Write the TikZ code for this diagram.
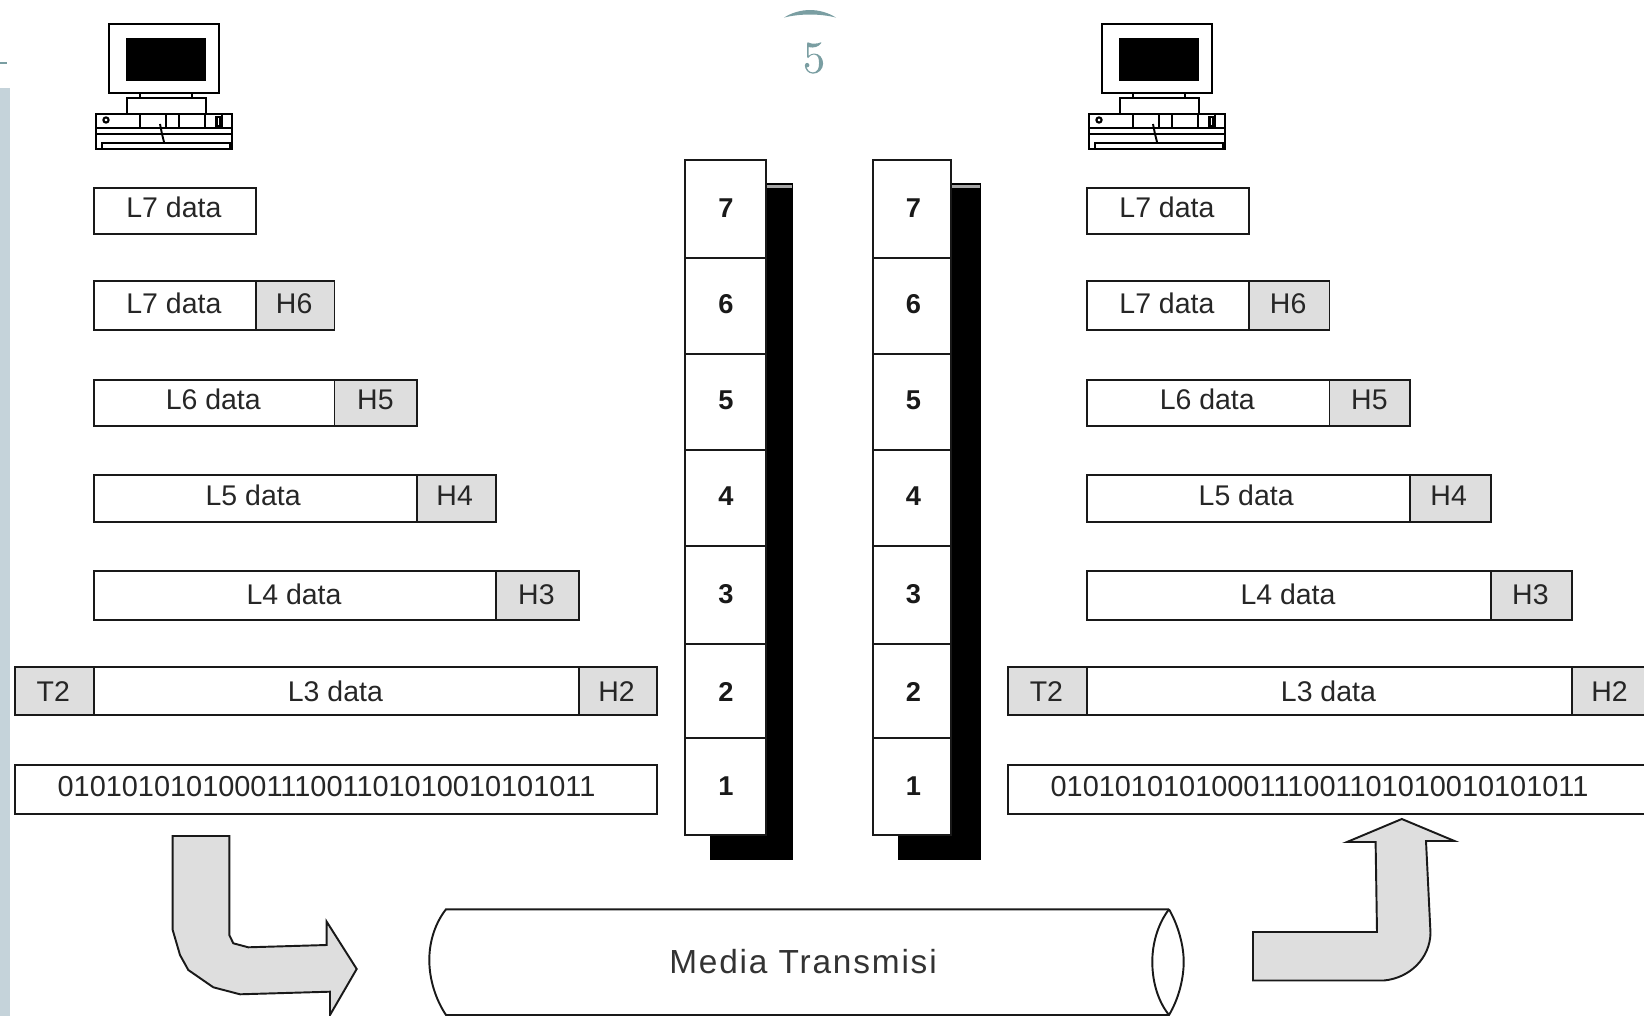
\documentclass[tikz,border=0pt]{standalone}
\usepackage{fontspec}
\setmainfont{Liberation Sans}
\newfontfamily\numfont{lmroman10-regular.otf}
\definecolor{teal5}{HTML}{7A9EA2}
\definecolor{sidebar}{HTML}{C5D3DA}
\definecolor{hdr}{HTML}{DEDEDE}
% name, x1, y1, x2, y2, style, text, baseline, dx
\newcommand{\cell}[9]{%
  \path[boxline,#6] (#2,#3) rectangle (#4,#5);
  \node[boxtext,anchor=base] (#1) at ({(#2+#4)/2+#9},#8) {#7};}
\newcommand{\computer}[1]{%
  \begin{scope}[shift={(#1,0)},pcline]
    \draw (108.7,24.3) rectangle (219,92.7);
    \fill[black] (125.7,38) rectangle (206.3,81.3);
    \draw (140,92.7) -- (140,98) (192.3,92.7) -- (192.3,98);
    \draw (126.7,98) rectangle (205.7,114);
    \draw (95.7,114) rectangle (232,148.7);
    \draw (95.7,128) -- (232,128) (95.7,134.3) -- (232,134.3);
    \draw (140,114) -- (140,128) (165.7,114) -- (165.7,128) (179,114) -- (179,128) (205,114) -- (205,128) (222,114) -- (222,128);
    \draw (102.3,142.7) rectangle (230,148.7);
    \draw[line width=1.2] (106,120) circle (2.6);
    \draw (216.5,117) rectangle (220,126);
    \draw[line width=1.1] (160,124) -- (162,134) -- (164,142);
  \end{scope}}
% x, width, prefix, number shift
\newcommand{\stack}[4]{%
  \fill[black] (#1+25,183) rectangle (#1+108,860);
  \fill[black!35] (#1+#2,185) rectangle (#1+107,188);
  \draw[boxline,fill=white] (#1,160) rectangle (#1+#2,835.3);
  \foreach \yy/\lab/\ty in {258/7/208.5,354.4/6/304.5,449.8/5/400,546.3/4/496,643.8/3/594.5,738.1/2/691.5}{
    \draw[boxline] (#1,\yy) -- (#1+#2,\yy);
    \node[numtext] (#3n\lab) at (#1+#2/2+#4,\ty) {\lab};
  }
  \node[numtext] (#3n1) at (#1+#2/2+#4,786.5) {1};}
% shift, prefix, x of H6/H5 joint, x of H4/H3 joint
\newcommand{\rows}[4]{%
  \begin{scope}[shift={(#1,0)}]
    \cell{#2a}{94}{187.7}{255.8}{233.8}{draw}{L7 data}{218}{-1}
    \cell{#2b}{94}{281}{255.8}{330}{draw}{L7 data}{314}{-1}
    \cell{#2bh}{255.8}{281}{#3}{330}{draw,fill=hdr}{H6}{314}{-1}
    \cell{#2c}{94}{379.6}{#3}{425.7}{draw}{L6 data}{410}{-1}
    \cell{#2ch}{#3}{379.6}{417.3}{425.7}{draw,fill=hdr}{H5}{410}{-0.5}
    \cell{#2d}{94}{475}{417.3}{522}{draw}{L5 data}{505.5}{-2.5}
    \cell{#2dh}{417.3}{475}{#4}{522}{draw,fill=hdr}{H4}{505.5}{-2}
    \cell{#2e}{94}{571.4}{#4}{619.7}{draw}{L4 data}{604.5}{-1}
    \cell{#2eh}{#4}{571.4}{578.8}{619.7}{draw,fill=hdr}{H3}{604.5}{-1}
    \cell{#2ft}{14.7}{667}{94}{715}{draw,fill=hdr}{T2}{701.5}{-1}
    \cell{#2f}{94}{667}{578.8}{715}{draw}{L3 data}{701.5}{-1}
    \cell{#2fh}{578.8}{667}{657.4}{715}{draw,fill=hdr}{H2}{701.5}{-1.5}
    \path[boxline,draw] (14.7,765.4) rectangle (657.4,813.6);
    \node[boxtext,anchor=base,font=\fontsize{16.45}{18}\selectfont] (#2g) at (326.6,796.5) {0101010101000111001101010010101011};
  \end{scope}}
\tikzset{
  boxline/.style={line width=1.1,draw=black!90},
  pcline/.style={line width=1.2,draw=black},
  boxtext/.style={font=\fontsize{16.2}{18}\selectfont,text=black!85,inner sep=0},
  numtext/.style={font=\fontsize{15.5}{18}\selectfont\bfseries,text=black!90,inner sep=0},
  arrowshape/.style={line width=1.1,draw=black!90,fill=hdr}
}
\begin{document}
\begin{tikzpicture}[x=0.02cm,y=-0.02cm]
\useasboundingbox (0,0) rectangle (1644,1016);
\clip (0,0) rectangle (1644,1016);
\fill[sidebar] (0,88) rectangle (10,1016);
\draw[teal5,line width=1.4] (0,63) -- (7,63);
\fill[teal5] (784,17.6) .. controls (800,7.5) and (820,7.5) .. (836,17.6) .. controls (820,13.5) and (800,13.5) .. (784,17.6);
\node[text=teal5,draw=teal5,line width=0,inner sep=0,draw opacity=0,font=\numfont\fontsize{26}{28}\selectfont\addfontfeature{FakeBold=0.6}] (pagenum) at (814,58) {5};
\computer{0}
\computer{993}
\rows{0}{l}{334.5}{496}
\rows{993}{r}{336.5}{498}
\stack{685}{81}{a}{0.5}
\stack{872.7}{78.5}{b}{1.5}
\draw[arrowshape] (172.7,836) -- (229.3,836) -- (229.3,935) -- (233.3,943.3) -- (248.3,947.3) -- (326.7,945) -- (326.7,921.7) -- (356.7,969) -- (330,1015) -- (330,991.7) -- (240,994.3) -- (213.3,987.3) -- (188.3,970) -- (180,955) -- (172.7,930) -- cycle;
\draw[arrowshape] (1253,932) -- (1377,932) -- (1375.6,842) -- (1347,842) -- (1401.8,819) -- (1454.5,841) -- (1426,841) -- (1430.5,933) .. controls (1430,958) and (1410,978) .. (1384,980.5) -- (1253,980.5) -- cycle;
\draw[boxline] (1169,909.3) -- (446,909.3) .. controls (436,922) and (429.3,940) .. (429.3,960) .. controls (429.3,980) and (436,1000) .. (446,1015) -- (1169,1015);
\draw[boxline] (1169,909.3) .. controls (1157,925) and (1152.3,945) .. (1152.3,961.7) .. controls (1152.3,980) and (1157,1000) .. (1169,1015) .. controls (1178,1000) and (1183.7,980) .. (1183.7,961.7) .. controls (1183.7,945) and (1178,925) .. (1169,909.3);
\node[boxtext,font=\fontsize{19}{21}\selectfont,text=black!80] (media) at (803,961.5) {\addfontfeature{LetterSpace=5.5}Media Transmisi};
\end{tikzpicture}
\end{document}
